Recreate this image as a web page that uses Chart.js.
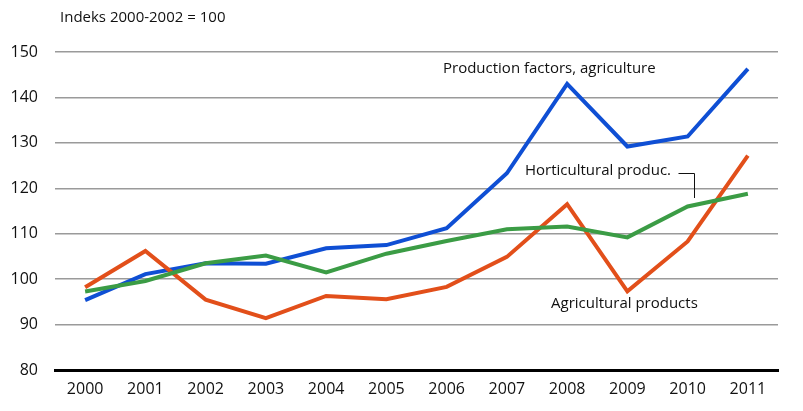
<!DOCTYPE html>
<html><head><meta charset="utf-8">
<script src="https://cdn.jsdelivr.net/npm/chart.js@4"></script>
<style>html,body{margin:0;padding:0;background:#fff}#wrap{width:803px;height:411px}</style>
</head><body><div id="wrap"><canvas id="c" width="803" height="411"></canvas></div>
<script>
const years = ['2000','2001','2002','2003','2004','2005','2006','2007','2008','2009','2010','2011'];
const productionFactors = [95.4,101.1,103.5,103.4,106.8,107.5,111.2,123.3,143.0,129.2,131.4,146.3];
const horticultural = [97.3,99.6,103.5,105.2,101.5,105.6,108.4,111.0,111.6,109.2,116.0,118.8];
const agricultural = [98.2,106.2,95.5,91.4,96.3,95.6,98.3,104.9,116.5,97.3,108.3,127.2];
const yTicks = [80,90,100,110,120,130,140,150];
const FONT = "'Open Sans', sans-serif";

const annot = {
  id:'annot',
  afterDraw(chart){
    const ctx = chart.ctx;
    ctx.save();
    ctx.fillStyle = '#111';
    ctx.font = "15px " + FONT;
    ctx.textBaseline = 'middle';
    ctx.textAlign = 'left';
    ctx.fillText('Indeks 2000-2002 = 100', 60, 18);
    ctx.fillText('Production factors, agriculture', 443, 69);
    ctx.fillText('Horticultural produc.', 525, 171);
    ctx.fillText('Agricultural products', 551, 304);
    ctx.strokeStyle = '#111';
    ctx.lineWidth = 1;
    ctx.beginPath();
    ctx.moveTo(678.5, 173.5); ctx.lineTo(694.5, 173.5); ctx.lineTo(694.5, 198);
    ctx.stroke();
    ctx.restore();
  }
};

new Chart(document.getElementById('c'), {
  type:'line',
  data:{
    labels: years,
    datasets:[
      {label:'Horticultural produc.', data: horticultural, borderColor:'#3b9c45', borderWidth:4, pointRadius:0, tension:0},
      {label:'Agricultural products', data: agricultural, borderColor:'#e24f1a', borderWidth:4, pointRadius:0, tension:0},
      {label:'Production factors, agriculture', data: productionFactors, borderColor:'#0f4fd4', borderWidth:4, pointRadius:0, tension:0}
    ]
  },
  options:{
    responsive:false, animation:false,
    layout:{padding:{left:0,right:25,top:52,bottom:0}},
    plugins:{legend:{display:false}, tooltip:{enabled:false}},
    scales:{
      x:{
        offset:true,
        grid:{display:false, drawTicks:false},
        border:{display:true, color:'#000', width:3},
        ticks:{color:'#111', font:{family:FONT, size:16}, padding:10, maxRotation:0},
        afterFit(s){ s.height = 41; }
      },
      y:{
        min:80, max:150,
        afterBuildTicks(s){ s.ticks = yTicks.map(v=>({value:v})); },
        grid:{color:'#9a9a9a', lineWidth:1.5, drawTicks:false},
        border:{display:false},
        ticks:{color:'#111', font:{family:FONT, size:16}, padding:17},
        afterFit(s){ s.width = 55; }
      }
    }
  },
  plugins:[annot]
});
</script>
</body></html>
